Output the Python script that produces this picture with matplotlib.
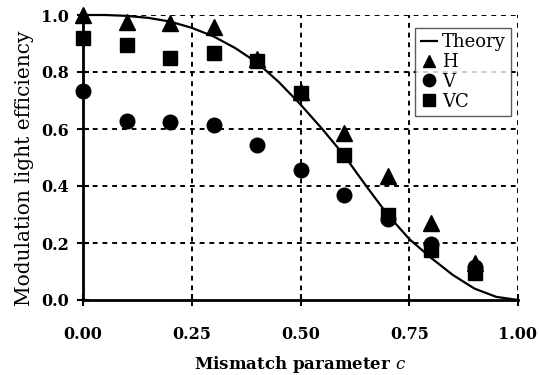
import matplotlib
matplotlib.use("Agg")
import matplotlib.pyplot as plt

# Data
c_pts = [0.0, 0.1, 0.2, 0.3, 0.4, 0.5, 0.6, 0.7, 0.8, 0.9]
H = [1.00, 0.977, 0.971, 0.959, 0.845, 0.73, 0.585, 0.435, 0.27, 0.13]
V = [0.732, 0.627, 0.625, 0.613, 0.543, 0.456, 0.37, 0.285, 0.195, 0.115]
VC = [0.918, 0.895, 0.849, 0.868, 0.837, 0.726, 0.51, 0.298, 0.175, 0.095]

theory_c = [0.00, 0.05, 0.10, 0.15, 0.20, 0.25, 0.30, 0.35, 0.40, 0.45, 0.50,
            0.55, 0.60, 0.65, 0.70, 0.75, 0.80, 0.85, 0.90, 0.95, 1.00]
theory_v = [1.000, 1.000, 0.997, 0.990, 0.977, 0.955, 0.925, 0.884, 0.833, 0.765, 0.686,
            0.600, 0.508, 0.402, 0.300, 0.214, 0.148, 0.088, 0.040, 0.011, 0.000]

xticks = [0.0, 0.25, 0.5, 0.75, 1.0]
xticklabels = ["0.00", "0.25", "0.50", "0.75", "1.00"]
yticks = [0.0, 0.2, 0.4, 0.6, 0.8, 1.0]
yticklabels = ["0.0", "0.2", "0.4", "0.6", "0.8", "1.0"]

plt.rcParams['font.family'] = ['DejaVu Serif']
plt.rcParams['mathtext.fontset'] = 'dejavuserif'

fig = plt.figure(figsize=(5.39, 3.75), dpi=100)
ax = fig.add_axes([83/539, 75/375, 435/539, 285/375])

ax.set_xlim(0, 1)
ax.set_ylim(0, 1)

dash = (0, (2.5, 2.5))
for x in [0.25, 0.5, 0.75, 1.0]:
    ax.axvline(x, color='black', lw=1.4, linestyle=dash, zorder=1)
for y in [0.2, 0.4, 0.6, 0.8, 1.0]:
    ax.axhline(y, color='black', lw=1.4, linestyle=dash, zorder=1)

for s in ['top', 'right']:
    ax.spines[s].set_visible(False)
for s in ['left', 'bottom']:
    ax.spines[s].set_linewidth(2)
    ax.spines[s].set_zorder(3)

ax.plot(theory_c, theory_v, color='black', lw=1.6, label='Theory', zorder=4, clip_on=False)
ax.plot(c_pts, H, linestyle='none', marker='^', ms=11, color='black', label='H', zorder=5, clip_on=False)
ax.plot(c_pts, V, linestyle='none', marker='o', ms=10.5, color='black', label='V', zorder=5, clip_on=False)
ax.plot(c_pts, VC, linestyle='none', marker='s', ms=9.5, color='black', label='VC', zorder=5, clip_on=False)

ax.set_xticks(xticks)
ax.set_xticklabels(xticklabels, fontweight='bold', fontsize=11.5)
ax.set_yticks(yticks)
ax.set_yticklabels(yticklabels, fontweight='bold', fontsize=11.5)
ax.tick_params(direction='inout', length=8, width=1.5)
ax.tick_params(axis='x', pad=15)
ax.tick_params(axis='y', pad=6)

ax.set_xlabel("Mismatch parameter $\\mathit{c}$", fontweight='bold', fontsize=12)
ax.xaxis.set_label_coords(0.5, (300 - 354) / 285)
ax.set_ylabel("Modulation light efficiency", fontsize=14.5)
ax.yaxis.set_label_coords((34 - 83) / 435, (300 - 168) / 285)

leg = ax.legend(loc='upper right', bbox_to_anchor=(0.993, 0.968), frameon=True, fancybox=False,
                edgecolor='#333333', handlelength=0.9, handletextpad=0.3, borderpad=0.3,
                labelspacing=0.1, fontsize=13, borderaxespad=0.2, markerscale=0.85)
leg.get_frame().set_linewidth(1.0)
leg.set_zorder(6)

fig.savefig("out.png", dpi=100)
